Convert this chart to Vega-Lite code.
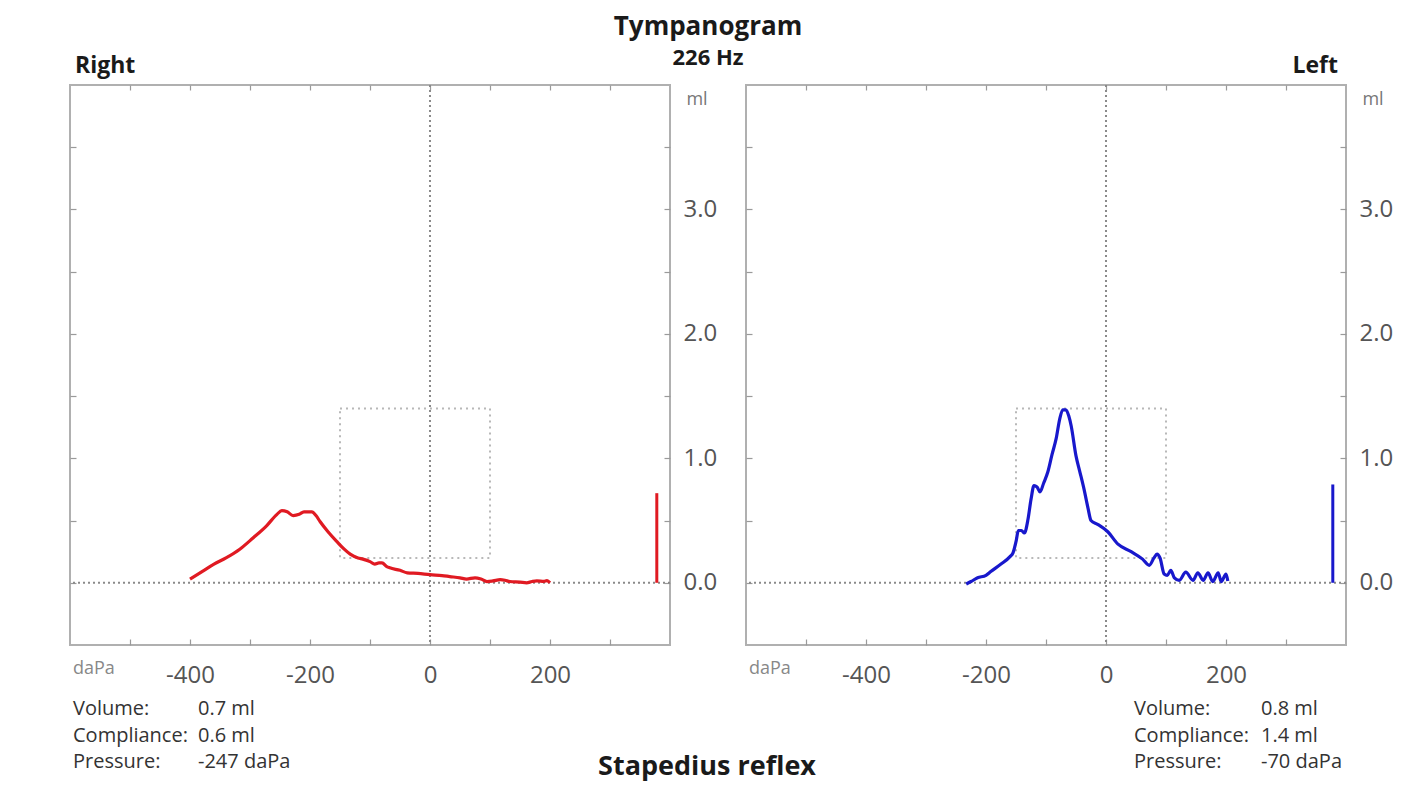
{
  "$schema": "https://vega.github.io/schema/vega-lite/v6.json",
  "background": "white",
  "padding": {"left": 68, "top": 13, "right": 10, "bottom": 5},
  "spacing": 76,
  "bounds": "flush",
  "config": {
    "view": {"stroke": "#b0b0b0", "strokeWidth": 2},
    "font": "Open Sans",
    "axis": {"domain": false, "grid": false, "tickColor": "#9a9a9a", "tickWidth": 1.2, "labelFont": "Open Sans", "labelFontSize": 24, "labelColor": "#555555"}
  },
  "datasets": {
    "rightCurve": [
      {"p": -400, "c": 0.03}, {"p": -380, "c": 0.09}, {"p": -360, "c": 0.15}, {"p": -340, "c": 0.2},
      {"p": -317, "c": 0.27}, {"p": -295, "c": 0.36}, {"p": -272, "c": 0.46}, {"p": -255, "c": 0.55},
      {"p": -247, "c": 0.58}, {"p": -238, "c": 0.57}, {"p": -228, "c": 0.54}, {"p": -218, "c": 0.55},
      {"p": -210, "c": 0.57}, {"p": -197, "c": 0.57}, {"p": -190, "c": 0.54}, {"p": -183, "c": 0.49},
      {"p": -170, "c": 0.41}, {"p": -155, "c": 0.33}, {"p": -143, "c": 0.27}, {"p": -133, "c": 0.23},
      {"p": -120, "c": 0.2}, {"p": -112, "c": 0.19}, {"p": -100, "c": 0.17}, {"p": -92, "c": 0.15},
      {"p": -85, "c": 0.16}, {"p": -80, "c": 0.16}, {"p": -72, "c": 0.13}, {"p": -67, "c": 0.12},
      {"p": -50, "c": 0.1}, {"p": -38, "c": 0.08}, {"p": -20, "c": 0.075}, {"p": 0, "c": 0.065},
      {"p": 20, "c": 0.058}, {"p": 33, "c": 0.05}, {"p": 50, "c": 0.04}, {"p": 61, "c": 0.03},
      {"p": 75, "c": 0.04}, {"p": 85, "c": 0.03}, {"p": 95, "c": 0.01}, {"p": 105, "c": 0.015},
      {"p": 117, "c": 0.025}, {"p": 125, "c": 0.02}, {"p": 133, "c": 0.01}, {"p": 150, "c": 0.005},
      {"p": 161, "c": 0.0}, {"p": 170, "c": 0.01}, {"p": 178, "c": 0.015}, {"p": 190, "c": 0.012},
      {"p": 195, "c": 0.018}, {"p": 200, "c": 0.0}
    ],
    "leftCurve": [
      {"p": -233, "c": -0.01}, {"p": -225, "c": 0.01}, {"p": -214, "c": 0.04}, {"p": -200, "c": 0.06},
      {"p": -192, "c": 0.09}, {"p": -175, "c": 0.15}, {"p": -160, "c": 0.21}, {"p": -155, "c": 0.24},
      {"p": -150, "c": 0.33}, {"p": -146, "c": 0.42}, {"p": -141, "c": 0.42}, {"p": -136, "c": 0.4},
      {"p": -130, "c": 0.51}, {"p": -125, "c": 0.67}, {"p": -120, "c": 0.78}, {"p": -115, "c": 0.77},
      {"p": -110, "c": 0.73}, {"p": -104, "c": 0.8}, {"p": -97, "c": 0.89}, {"p": -90, "c": 1.03},
      {"p": -83, "c": 1.16}, {"p": -77, "c": 1.32}, {"p": -72, "c": 1.39}, {"p": -67, "c": 1.39},
      {"p": -62, "c": 1.34}, {"p": -58, "c": 1.26}, {"p": -50, "c": 1.02}, {"p": -44, "c": 0.9},
      {"p": -37, "c": 0.76}, {"p": -30, "c": 0.6}, {"p": -25, "c": 0.5}, {"p": -14, "c": 0.47},
      {"p": 3, "c": 0.41}, {"p": 20, "c": 0.31}, {"p": 42, "c": 0.25}, {"p": 61, "c": 0.19},
      {"p": 72, "c": 0.14}, {"p": 80, "c": 0.2}, {"p": 85, "c": 0.23}, {"p": 90, "c": 0.2},
      {"p": 97, "c": 0.07}, {"p": 102, "c": 0.06}, {"p": 108, "c": 0.1}, {"p": 114, "c": 0.04},
      {"p": 122, "c": 0.02}, {"p": 133, "c": 0.085}, {"p": 145, "c": 0.02}, {"p": 153, "c": 0.08},
      {"p": 162, "c": 0.02}, {"p": 170, "c": 0.08}, {"p": 178, "c": 0.01}, {"p": 187, "c": 0.08},
      {"p": 192, "c": 0.01}, {"p": 200, "c": 0.07}, {"p": 203, "c": 0.015}
    ],
    "normalRange": [{"pmin": -150, "pmax": 100, "cmin": 0.2, "cmax": 1.4}],
    "stats": [
      {"side": "Right", "volume": 0.72, "labels": "Volume:\nCompliance:\nPressure:", "values": "0.7 ml\n0.6 ml\n-247 daPa"},
      {"side": "Left", "volume": 0.79, "labels": "Volume:\nCompliance:\nPressure:", "values": "0.8 ml\n1.4 ml\n-70 daPa"}
    ]
  },
  "hconcat": [
    {
      "width": 600,
      "height": 560,
      "layer": [
        {
          "data": {"name": "normalRange"},
          "mark": {"type": "rect", "filled": false, "stroke": "#b8b8b8", "strokeWidth": 2, "strokeDash": [2, 4]},
          "encoding": {
            "x": {"field": "pmin", "type": "quantitative", "title": null,
              "scale": {"domain": [-600, 400], "nice": false, "zero": false},
              "axis": {"orient": "bottom", "values": [-500, -400, -300, -200, -100, 0, 100, 200, 300], "tickSize": -6, "labelPadding": 24,
                "labelExpr": "(datum.value == -400 || datum.value == -200 || datum.value == 0 || datum.value == 200) ? '' + datum.value : ''"}},
            "x2": {"field": "pmax"},
            "y": {"field": "cmin", "type": "quantitative", "title": null,
              "scale": {"domain": [-0.5, 4.0], "nice": false, "zero": false},
              "axis": {"orient": "right", "values": [0, 0.5, 1, 1.5, 2, 2.5, 3, 3.5], "tickSize": -6, "labelPadding": 19,
                "labelExpr": "datum.value % 1 == 0 ? format(datum.value, '.1f') : ''"}},
            "y2": {"field": "cmax"}
          }
        },
        {
          "data": {"name": "normalRange"},
          "mark": {"type": "rule", "stroke": "#8a8a8a", "strokeWidth": 2, "strokeDash": [2, 3]},
          "encoding": {
            "x": {"datum": 0, "type": "quantitative", "scale": {"domain": [-600, 400], "nice": false, "zero": false},
              "axis": {"orient": "top", "values": [-500, -400, -300, -200, -100, 0, 100, 200, 300], "tickSize": -5, "labels": false, "title": null}}
          }
        },
        {
          "data": {"name": "normalRange"},
          "mark": {"type": "rule", "stroke": "#8a8a8a", "strokeWidth": 2, "strokeDash": [2, 3]},
          "encoding": {
            "y": {"datum": 0, "type": "quantitative", "scale": {"domain": [-0.5, 4.0], "nice": false, "zero": false},
              "axis": {"orient": "left", "values": [0, 0.5, 1, 1.5, 2, 2.5, 3, 3.5], "tickSize": -6, "labels": false, "title": null}}
          }
        },
        {
          "data": {"name": "rightCurve"},
          "mark": {"type": "line", "color": "#e01a22", "strokeWidth": 3.2, "interpolate": "monotone"},
          "encoding": {
            "x": {"field": "p", "type": "quantitative", "axis": null, "scale": {"domain": [-600, 400], "nice": false, "zero": false}},
            "y": {"field": "c", "type": "quantitative", "axis": null, "scale": {"domain": [-0.5, 4.0], "nice": false, "zero": false}}
          }
        },
        {
          "data": {"name": "stats"},
          "transform": [{"filter": "datum.side == 'Right'"}],
          "mark": {"type": "rule", "color": "#e01a22", "strokeWidth": 3},
          "encoding": {
            "x": {"datum": 378, "type": "quantitative", "axis": null},
            "y": {"field": "volume", "type": "quantitative", "axis": null},
            "y2": {"datum": 0}
          }
        },
        {
          "data": {"name": "stats"},
          "transform": [{"filter": "datum.side == 'Right'"}],
          "mark": {"type": "text", "align": "left", "baseline": "top", "font": "Open Sans", "fontSize": 20, "color": "#333333", "lineBreak": "\n", "lineHeight": 26.5, "dx": 3, "dy": 54},
          "encoding": {
            "x": {"datum": -600, "type": "quantitative", "axis": null},
            "y": {"datum": -0.5, "type": "quantitative", "axis": null},
            "text": {"field": "labels", "type": "nominal"}
          }
        },
        {
          "data": {"name": "stats"},
          "transform": [{"filter": "datum.side == 'Right'"}],
          "mark": {"type": "text", "align": "left", "baseline": "top", "font": "Open Sans", "fontSize": 20, "color": "#333333", "lineBreak": "\n", "lineHeight": 26.5, "dx": 128, "dy": 54},
          "encoding": {
            "x": {"datum": -600, "type": "quantitative", "axis": null},
            "y": {"datum": -0.5, "type": "quantitative", "axis": null},
            "text": {"field": "values", "type": "nominal"}
          }
        },
        {
          "data": {"name": "stats"},
          "transform": [{"filter": "datum.side == 'Right'"}],
          "mark": {"type": "text", "align": "left", "baseline": "middle", "font": "Open Sans", "fontSize": 18, "color": "#888888", "dx": 3, "dy": 24},
          "encoding": {
            "x": {"datum": -600, "type": "quantitative", "axis": null},
            "y": {"datum": -0.5, "type": "quantitative", "axis": null},
            "text": {"value": "daPa"}
          }
        },
        {
          "data": {"name": "stats"},
          "transform": [{"filter": "datum.side == 'Right'"}],
          "mark": {"type": "text", "align": "center", "baseline": "middle", "font": "Open Sans", "fontSize": 18, "color": "#777777", "dx": 27, "dy": 15},
          "encoding": {
            "x": {"datum": 400, "type": "quantitative", "axis": null},
            "y": {"datum": 4, "type": "quantitative", "axis": null},
            "text": {"value": "ml"}
          }
        },
        {
          "data": {"name": "stats"},
          "transform": [{"filter": "datum.side == 'Right'"}],
          "mark": {"type": "text", "align": "left", "baseline": "alphabetic", "font": "Open Sans", "fontWeight": "bold", "fontSize": 23, "color": "#1a1a1a", "dx": 5, "dy": -12},
          "encoding": {
            "x": {"datum": -600, "type": "quantitative", "axis": null},
            "y": {"datum": 4, "type": "quantitative", "axis": null},
            "text": {"field": "side", "type": "nominal"}
          }
        },
        {
          "data": {"name": "stats"},
          "transform": [{"filter": "datum.side == 'Right'"}],
          "mark": {"type": "text", "align": "center", "baseline": "middle", "font": "Open Sans", "fontWeight": "bold", "fontSize": 26, "color": "#1a1a1a", "dx": 38, "dy": -58},
          "encoding": {
            "x": {"datum": 400, "type": "quantitative", "axis": null},
            "y": {"datum": 4, "type": "quantitative", "axis": null},
            "text": {"value": "Tympanogram"}
          }
        },
        {
          "data": {"name": "stats"},
          "transform": [{"filter": "datum.side == 'Right'"}],
          "mark": {"type": "text", "align": "center", "baseline": "middle", "font": "Open Sans", "fontWeight": "bold", "fontSize": 22, "color": "#1a1a1a", "dx": 38, "dy": -27},
          "encoding": {
            "x": {"datum": 400, "type": "quantitative", "axis": null},
            "y": {"datum": 4, "type": "quantitative", "axis": null},
            "text": {"value": "226 Hz"}
          }
        },
        {
          "data": {"name": "stats"},
          "transform": [{"filter": "datum.side == 'Right'"}],
          "mark": {"type": "text", "align": "center", "baseline": "middle", "font": "Open Sans", "fontWeight": "bold", "fontSize": 27, "color": "#1a1a1a", "dx": 37, "dy": 122},
          "encoding": {
            "x": {"datum": 400, "type": "quantitative", "axis": null},
            "y": {"datum": -0.5, "type": "quantitative", "axis": null},
            "text": {"value": "Stapedius reflex"}
          }
        }
      ]
    },
    {
      "width": 600,
      "height": 560,
      "layer": [
        {
          "data": {"name": "normalRange"},
          "mark": {"type": "rect", "filled": false, "stroke": "#b8b8b8", "strokeWidth": 2, "strokeDash": [2, 4]},
          "encoding": {
            "x": {"field": "pmin", "type": "quantitative", "title": null,
              "scale": {"domain": [-600, 400], "nice": false, "zero": false},
              "axis": {"orient": "bottom", "values": [-500, -400, -300, -200, -100, 0, 100, 200, 300], "tickSize": -6, "labelPadding": 24,
                "labelExpr": "(datum.value == -400 || datum.value == -200 || datum.value == 0 || datum.value == 200) ? '' + datum.value : ''"}},
            "x2": {"field": "pmax"},
            "y": {"field": "cmin", "type": "quantitative", "title": null,
              "scale": {"domain": [-0.5, 4.0], "nice": false, "zero": false},
              "axis": {"orient": "right", "values": [0, 0.5, 1, 1.5, 2, 2.5, 3, 3.5], "tickSize": -6, "labelPadding": 19,
                "labelExpr": "datum.value % 1 == 0 ? format(datum.value, '.1f') : ''"}},
            "y2": {"field": "cmax"}
          }
        },
        {
          "data": {"name": "normalRange"},
          "mark": {"type": "rule", "stroke": "#8a8a8a", "strokeWidth": 2, "strokeDash": [2, 3]},
          "encoding": {
            "x": {"datum": 0, "type": "quantitative", "scale": {"domain": [-600, 400], "nice": false, "zero": false},
              "axis": {"orient": "top", "values": [-500, -400, -300, -200, -100, 0, 100, 200, 300], "tickSize": -5, "labels": false, "title": null}}
          }
        },
        {
          "data": {"name": "normalRange"},
          "mark": {"type": "rule", "stroke": "#8a8a8a", "strokeWidth": 2, "strokeDash": [2, 3]},
          "encoding": {
            "y": {"datum": 0, "type": "quantitative", "scale": {"domain": [-0.5, 4.0], "nice": false, "zero": false},
              "axis": {"orient": "left", "values": [0, 0.5, 1, 1.5, 2, 2.5, 3, 3.5], "tickSize": -6, "labels": false, "title": null}}
          }
        },
        {
          "data": {"name": "leftCurve"},
          "mark": {"type": "line", "color": "#1818cc", "strokeWidth": 3.2, "interpolate": "monotone"},
          "encoding": {
            "x": {"field": "p", "type": "quantitative", "axis": null, "scale": {"domain": [-600, 400], "nice": false, "zero": false}},
            "y": {"field": "c", "type": "quantitative", "axis": null, "scale": {"domain": [-0.5, 4.0], "nice": false, "zero": false}}
          }
        },
        {
          "data": {"name": "stats"},
          "transform": [{"filter": "datum.side == 'Left'"}],
          "mark": {"type": "rule", "color": "#1818cc", "strokeWidth": 3},
          "encoding": {
            "x": {"datum": 378, "type": "quantitative", "axis": null},
            "y": {"field": "volume", "type": "quantitative", "axis": null},
            "y2": {"datum": 0}
          }
        },
        {
          "data": {"name": "stats"},
          "transform": [{"filter": "datum.side == 'Left'"}],
          "mark": {"type": "text", "align": "left", "baseline": "top", "font": "Open Sans", "fontSize": 20, "color": "#333333", "lineBreak": "\n", "lineHeight": 26.5, "dx": -212, "dy": 54},
          "encoding": {
            "x": {"datum": 400, "type": "quantitative", "axis": null},
            "y": {"datum": -0.5, "type": "quantitative", "axis": null},
            "text": {"field": "labels", "type": "nominal"}
          }
        },
        {
          "data": {"name": "stats"},
          "transform": [{"filter": "datum.side == 'Left'"}],
          "mark": {"type": "text", "align": "left", "baseline": "top", "font": "Open Sans", "fontSize": 20, "color": "#333333", "lineBreak": "\n", "lineHeight": 26.5, "dx": -85, "dy": 54},
          "encoding": {
            "x": {"datum": 400, "type": "quantitative", "axis": null},
            "y": {"datum": -0.5, "type": "quantitative", "axis": null},
            "text": {"field": "values", "type": "nominal"}
          }
        },
        {
          "data": {"name": "stats"},
          "transform": [{"filter": "datum.side == 'Left'"}],
          "mark": {"type": "text", "align": "left", "baseline": "middle", "font": "Open Sans", "fontSize": 18, "color": "#888888", "dx": 3, "dy": 24},
          "encoding": {
            "x": {"datum": -600, "type": "quantitative", "axis": null},
            "y": {"datum": -0.5, "type": "quantitative", "axis": null},
            "text": {"value": "daPa"}
          }
        },
        {
          "data": {"name": "stats"},
          "transform": [{"filter": "datum.side == 'Left'"}],
          "mark": {"type": "text", "align": "center", "baseline": "middle", "font": "Open Sans", "fontSize": 18, "color": "#777777", "dx": 27, "dy": 15},
          "encoding": {
            "x": {"datum": 400, "type": "quantitative", "axis": null},
            "y": {"datum": 4, "type": "quantitative", "axis": null},
            "text": {"value": "ml"}
          }
        },
        {
          "data": {"name": "stats"},
          "transform": [{"filter": "datum.side == 'Left'"}],
          "mark": {"type": "text", "align": "right", "baseline": "alphabetic", "font": "Open Sans", "fontWeight": "bold", "fontSize": 23, "color": "#1a1a1a", "dx": -8, "dy": -12},
          "encoding": {
            "x": {"datum": 400, "type": "quantitative", "axis": null},
            "y": {"datum": 4, "type": "quantitative", "axis": null},
            "text": {"field": "side", "type": "nominal"}
          }
        }
      ]
    }
  ]
}
